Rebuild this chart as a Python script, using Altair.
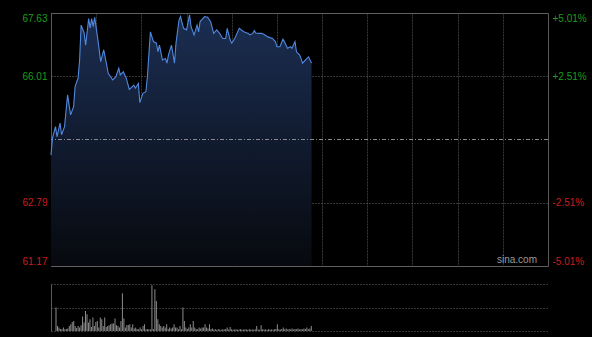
import json
import altair as alt
import pandas as pd

# ---------------- data ----------------
minutes = [0, 1, 3, 4, 6, 7, 9, 11, 13, 15,
           16, 18, 19, 20, 22, 23, 25, 26, 27, 28,
           29, 31, 33, 35, 37, 38, 41, 43, 45, 46,
           48, 50, 52, 55, 56, 58, 59, 61, 63, 64,
           66, 68, 70, 71, 72, 74, 76, 77, 78, 80,
           82, 83, 85, 86, 88, 90, 92, 93, 95, 97,
           98, 99, 102, 104, 106, 108, 110, 112, 114, 116,
           117, 119, 120, 122, 125, 128, 131, 132, 134, 135,
           136, 138, 140, 142, 144, 147, 149, 150, 152, 154,
           155, 157, 159, 160, 162, 163, 165, 166, 167, 169,
           170, 171, 173]
prices = [64.00, 64.44, 64.73, 64.47, 64.82, 64.52, 64.73, 65.54, 65.03, 65.24,
          65.75, 65.97, 66.43, 67.32, 67.12, 66.81, 67.49, 67.25, 67.49, 67.28,
          67.52, 66.99, 66.39, 66.69, 66.30, 66.09, 65.92, 66.00, 66.22, 66.05,
          66.13, 65.96, 65.68, 65.79, 65.71, 65.83, 65.34, 65.58, 65.62, 66.00,
          67.15, 66.90, 66.86, 66.64, 66.81, 66.43, 66.47, 66.35, 66.56, 66.81,
          66.35, 66.86, 67.45, 67.54, 67.24, 67.20, 67.58, 67.28, 67.07, 67.32,
          67.15, 67.41, 67.54, 67.52, 67.41, 67.11, 67.20, 67.11, 66.98, 66.98,
          67.24, 66.94, 66.86, 66.98, 67.24, 67.15, 67.11, 67.07, 67.11, 67.18,
          67.12, 67.11, 67.11, 67.07, 67.02, 66.98, 66.90, 66.77, 66.77, 66.96,
          66.90, 66.73, 66.77, 66.73, 66.90, 66.64, 66.56, 66.47, 66.35, 66.43,
          66.47, 66.51, 66.35]

volumes = [23.4, 5, 3.4, 2, 1.7, 3.4, 1.7, 2, 2.4, 5,
           6.7, 9, 10, 5, 3, 5, 3.4, 5.7, 14.4, 8.4,
           20, 16.7, 8.4, 11.7, 4, 13.4, 5, 9, 10, 3.4,
           13.4, 11.7, 5, 13.4, 4, 5, 5.7, 6.7, 7.4, 7.4,
           12.4, 5.7, 5, 3.4, 10, 37.7, 12.4, 3.4, 6, 6,
           6.7, 3.4, 6.7, 2.4, 3.4, 2, 1.7, 3.4, 1.7, 5,
           6.7, 1.7, 1.7, 1.7, 1.4, 45.7, 2, 41.7, 30, 11.7,
           6.7, 5, 3.4, 5, 3.4, 6.7, 2, 3.4, 2.4, 3.4,
           6.7, 3.4, 3.4, 1.7, 5, 1.7, 23.4, 10, 3.4, 2,
           3.4, 6.7, 3.4, 10, 3.4, 2, 1.7, 3.4, 2.4, 3.4,
           3.4, 6.7, 3.4, 2.4, 6.7, 2, 2.4, 1.5, 1.7, 1.2,
           1.7, 1.5, 1.2, 1.7, 1.5, 2, 3.4, 1.5, 4, 1.7,
           1.2, 1.5, 1.7, 1.2, 1.5, 1.7, 1.4, 1.2, 1.7, 1.5,
           1.2, 1.7, 1.4, 1.5, 1.2, 1.7, 5, 1.5, 1.2, 5.7,
           1.7, 1.4, 1.5, 1.2, 1.7, 1.5, 1.4, 1.2, 1.7, 2,
           6.7, 1.7, 1.5, 2, 3.4, 1.7, 2.4, 1.5, 2, 1.7,
           2.4, 1.5, 2, 1.7, 2.4, 1.5, 2, 1.7, 2.4, 2,
           3.4, 1.7, 2.4, 5]
vol_minutes = list(range(len(volumes)))

prev_close = 64.40
price_ticks = [61.17, 62.79, 66.01, 67.63]
pct_labels = ["-5.01%", "-2.51%", "+2.51%", "+5.01%"]
time_grid = [30, 60, 90, 120, 150, 180, 210, 240, 270, 300]
session_minutes = 330
vol_max = 47
watermark = "sina.com"

# ---------------- styles ----------------
GREEN = "#1c9c1c"
RED = "#cc1c1c"
FONT = "Liberation Sans"
W, H, VH = 497, 253, 47

price_df = pd.DataFrame({"minute": minutes, "price": prices})
vol_df = pd.DataFrame({"minute": vol_minutes, "volume": volumes})
prev_df = pd.DataFrame({"p": [prev_close]})

xs = alt.Scale(domain=[0, session_minutes], nice=False, zero=False)
ys = alt.Scale(domain=[price_ticks[0], price_ticks[-1]], nice=False, zero=False)

label_color = {"condition": {"test": f"datum.value > {prev_close}", "value": GREEN}, "value": RED}

x_axis = alt.Axis(values=time_grid, grid=True, gridDash=[2, 1], gridColor="#383838",
                  labels=False, ticks=False, domain=False, title=None)
left_axis = alt.Axis(orient="left", values=price_ticks, format=".2f", grid=True,
                     gridDash=[1, 2], gridColor="#6a6a6a", ticks=False, domain=False,
                     labelFlush=True, labelPadding=4, labelColor=label_color,
                     labelFontSize=10, labelFont=FONT, title=None)
pct_expr = f"{json.dumps(pct_labels)}[indexof({json.dumps(price_ticks)}, datum.value)]"
right_axis = alt.Axis(orient="right", values=price_ticks, grid=False, ticks=False,
                      domain=False, labelFlush=True, labelPadding=4,
                      labelExpr=pct_expr, labelColor=label_color,
                      labelFontSize=10, labelFont=FONT, title=None)

X = alt.X("minute:Q", scale=xs, axis=x_axis)

gradient = {
    "gradient": "linear",
    "x1": 0, "x2": 0, "y1": 0, "y2": 1,
    "stops": [{"offset": 0, "color": "#1b2e52"},
              {"offset": 1, "color": "#07090e"}],
}

area = alt.Chart(price_df).mark_area(fill=gradient, opacity=1).encode(
    x=X, y=alt.Y("price:Q", scale=ys, axis=left_axis),
    y2=alt.datum(price_ticks[0]))
prev_rule = alt.Chart(prev_df).mark_rule(color="#8a8a8a", strokeDash=[4, 2, 1, 2], strokeWidth=1).encode(
    y=alt.Y("p:Q", scale=ys, axis=None))
line = alt.Chart(price_df).mark_line(color="#5088dd", strokeWidth=1.1).encode(
    x=X, y=alt.Y("price:Q", scale=ys, axis=right_axis))
mark_txt = alt.Chart(pd.DataFrame({"t": [watermark]})).mark_text(
    align="right", baseline="middle", fontSize=10, font=FONT, color="#9a9a9a").encode(
    x=alt.value(W - 11), y=alt.value(H - 6), text="t:N")

main = alt.layer(area, prev_rule, line, mark_txt).resolve_axis(y="independent").properties(
    width=W, height=H, view=alt.ViewBackground(stroke="#5a5a5a", strokeWidth=1))

vol = alt.Chart(vol_df).mark_bar(size=1, color="#8c8c8c").encode(
    x=alt.X("minute:Q", scale=xs, axis=None),
    y=alt.Y("volume:Q", scale=alt.Scale(domain=[0, vol_max], nice=False),
            axis=alt.Axis(values=[0, vol_max / 2, vol_max], grid=True, gridDash=[1, 2],
                          gridColor="#6a6a6a", labels=False, ticks=False, domain=True,
                          domainColor="#5a5a5a", title=None)),
).properties(width=W, height=VH, view=alt.ViewBackground(stroke="transparent"))

chart = alt.vconcat(main, vol, spacing=16).properties(
    background="#000000",
    padding={"left": 21, "top": 12, "right": 5, "bottom": 5},
).configure_view(stroke="#5a5a5a")

chart.save("out.html", embed_options={"renderer": "svg", "actions": False})
